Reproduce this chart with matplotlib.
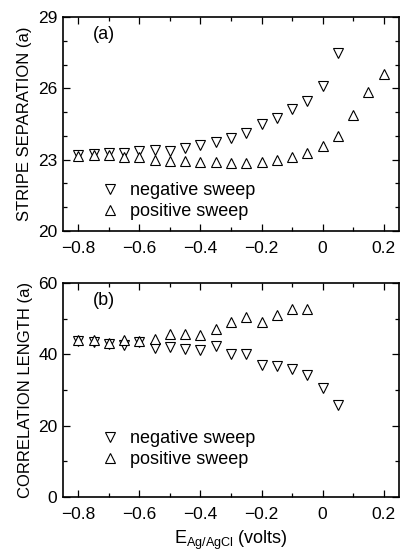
import numpy as np
import matplotlib
matplotlib.use("Agg")
import matplotlib.pyplot as plt
from matplotlib.ticker import MultipleLocator

plt.rcParams['font.family'] = ['Liberation Sans Narrow', 'Liberation Sans', 'DejaVu Sans']
plt.rcParams['mathtext.fontset'] = 'custom'
plt.rcParams['mathtext.rm'] = 'Liberation Sans'

# panel (a): stripe separation
sep_neg_x = [-0.8, -0.75, -0.7, -0.65, -0.6, -0.55, -0.5, -0.45, -0.4, -0.35,
             -0.3, -0.25, -0.2, -0.15, -0.1, -0.05, 0.0, 0.05]
sep_neg_y = [23.18, 23.22, 23.28, 23.3, 23.35, 23.39, 23.38, 23.5, 23.61, 23.74,
             23.92, 24.12, 24.48, 24.75, 25.13, 25.48, 26.08, 27.5]
sep_pos_x = [-0.8, -0.75, -0.7, -0.65, -0.6, -0.55, -0.5, -0.45, -0.4, -0.35,
             -0.3, -0.25, -0.2, -0.15, -0.1, -0.05, 0.0, 0.05, 0.1, 0.15, 0.2]
sep_pos_y = [23.17, 23.2, 23.2, 23.1, 23.1, 22.97, 22.95, 22.94, 22.91, 22.91,
             22.88, 22.88, 22.91, 22.98, 23.12, 23.29, 23.59, 24.0, 24.89, 25.86, 26.59]
sep_ticks = [20, 23, 26, 29]

# panel (b): correlation length
cor_neg_x = [-0.8, -0.75, -0.7, -0.65, -0.6, -0.55, -0.5, -0.45, -0.4, -0.35,
             -0.3, -0.25, -0.2, -0.15, -0.1, -0.05, 0.0, 0.05]
cor_neg_y = [43.8, 43.5, 42.9, 42.6, 43.6, 41.9, 42.2, 41.6, 41.2, 42.3,
             40.1, 40.0, 37.1, 36.7, 35.9, 34.1, 30.6, 25.9]
cor_pos_x = [-0.8, -0.75, -0.7, -0.65, -0.6, -0.55, -0.5, -0.45, -0.4, -0.35,
             -0.3, -0.25, -0.2, -0.15, -0.1, -0.05]
cor_pos_y = [44.0, 44.0, 43.3, 44.0, 43.8, 44.3, 45.7, 45.7, 45.4, 47.2,
             49.0, 50.6, 49.1, 51.0, 52.7, 52.6]
cor_ticks = [0, 20, 40, 60]

x_ticks = [-0.8, -0.6, -0.4, -0.2, 0.0, 0.2]
x_labels = ['\u22120.8', '\u22120.6', '\u22120.4', '\u22120.2', '0', '0.2']

fig = plt.figure(figsize=(4.01, 5.52), dpi=100)
ax1 = fig.add_axes([0.157, 0.5815, 0.838, 0.3877])
ax2 = fig.add_axes([0.157, 0.0996, 0.838, 0.3877])

mk = dict(linestyle='none', markerfacecolor='white', markeredgecolor='black',
          markersize=6.5, markeredgewidth=0.8)


def style_axes(ax, ylim, yticks, minor, ylabel, tag, leg_y):
    ax.set_xlim(-0.85, 0.25)
    ax.set_ylim(*ylim)
    ax.set_xticks(x_ticks)
    ax.set_xticklabels(x_labels)
    ax.xaxis.set_minor_locator(MultipleLocator(0.1))
    ax.set_yticks(yticks)
    ax.yaxis.set_minor_locator(MultipleLocator(minor))
    ax.tick_params(which='both', direction='in', top=True, right=True,
                   labelsize=12.5, width=0.9)
    ax.tick_params(axis='x', pad=7)
    ax.tick_params(axis='y', pad=4)
    ax.tick_params(which='major', length=5)
    ax.tick_params(which='minor', length=3)
    for s in ax.spines.values():
        s.set_linewidth(1.2)
    ax.set_ylabel(ylabel, fontsize=12, labelpad=4)
    ax.text(0.09, 0.92, tag, transform=ax.transAxes, fontsize=13, va='center')
    ax.legend(loc='lower left', bbox_to_anchor=(0.065, leg_y), frameon=False,
              fontsize=13, handlelength=1.0, handletextpad=0.6, labelspacing=0.22,
              numpoints=1)


ax1.plot(sep_neg_x, sep_neg_y, marker='v', label='negative sweep', **mk)
ax1.plot(sep_pos_x, sep_pos_y, marker='^', label='positive sweep', **mk)
style_axes(ax1, (20, 29), sep_ticks, 1, 'STRIPE SEPARATION (a)', '(a)', -0.025)

ax2.plot(cor_neg_x, cor_neg_y, marker='v', label='negative sweep', **mk)
ax2.plot(cor_pos_x, cor_pos_y, marker='^', label='positive sweep', **mk)
style_axes(ax2, (0, 60), cor_ticks, 10, 'CORRELATION LENGTH (a)', '(b)', 0.06)
ax2.set_xlabel(r'E$_{\mathrm{Ag/AgCl}}$ (volts)', fontsize=13, labelpad=5)

fig.savefig('out.png', dpi=100)
